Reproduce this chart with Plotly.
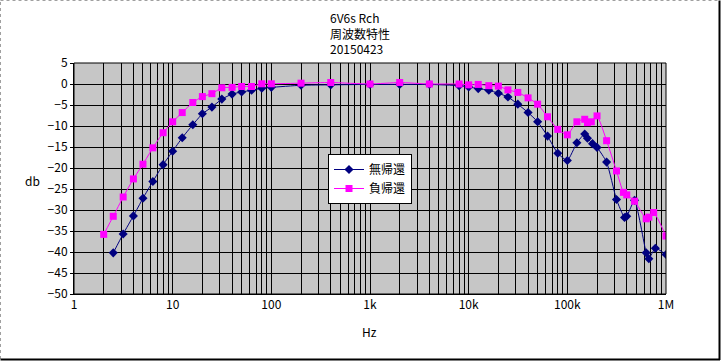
import plotly.graph_objects as go

freq_nfb0 = [2.5, 3.15, 4, 5, 6.3, 8, 10, 12.5, 16, 20, 25, 31.5, 40, 50, 63, 80, 100,
             200, 400, 1000, 2000, 4000, 8000, 10000, 12500, 16000, 20000, 25000, 31500,
             40000, 50000, 63000, 80000, 100000, 125000, 150000, 160000, 180000, 200000,
             250000, 315000, 380000, 400000, 480000, 630000, 670000, 780000, 1000000]
db_nfb0 = [-40.2, -35.7, -31.4, -27.2, -23.2, -19.2, -16.0, -12.8, -9.7, -7.1, -5.5, -3.6,
           -2.4, -1.9, -1.5, -1.0, -0.8, -0.3, -0.2, -0.1, -0.1, -0.1, -0.4, -0.7, -1.1,
           -1.5, -2.2, -3.1, -4.8, -6.8, -9.0, -12.4, -16.5, -18.2, -14.0, -11.9, -12.9,
           -14.2, -15.1, -18.6, -27.5, -31.8, -31.5, -27.7, -40.2, -41.6, -39.1, -40.6]

freq_nfb = [2, 2.5, 3.15, 4, 5, 6.3, 8, 10, 12.5, 16, 20, 25, 31.5, 40, 50, 63, 80, 100,
            200, 400, 1000, 2000, 4000, 8000, 10000, 12500, 16000, 20000, 25000, 31500,
            40000, 50000, 63000, 80000, 100000, 125000, 150000, 160000, 175000, 200000,
            250000, 315000, 370000, 400000, 480000, 630000, 670000, 750000, 1000000]
db_nfb = [-35.8, -31.5, -26.9, -22.6, -19.1, -15.2, -11.6, -9.0, -6.8, -4.4, -3.0, -2.3,
          -0.9, -0.8, -0.6, -0.6, 0.05, 0.05, 0.2, 0.35, 0.0, 0.35, 0.0, 0.0, -0.2, -0.1,
          -0.4, -0.5, -1.4, -2.0, -3.3, -4.8, -7.8, -10.8, -12.1, -9.0, -8.4, -9.2, -9.0,
          -7.6, -13.5, -20.7, -25.8, -26.4, -27.9, -32.1, -31.7, -30.6, -36.2]

series_names = ["無帰還", "負帰還"]
title_lines = ["6V6s Rch", "周波数特性", "20150423"]
x_tick_labels = {1: "1", 10: "10", 100: "100", 1000: "1k", 10000: "10k",
                 100000: "100k", 1000000: "1M"}
y_ticks = list(range(-50, 10, 5))

FONT = "Noto Sans CJK JP"

tickvals = []
ticktext = []
for d in range(6):
    for m in range(1, 10):
        v = m * 10 ** d
        tickvals.append(v)
        ticktext.append(x_tick_labels.get(v, ""))
tickvals.append(1000000)
ticktext.append("1M")

W, H = 722, 361
L, R, T, B = 74, 56, 63, 67
PW, PH = W - L - R, H - T - B


def px(xp):
    return (xp - L) / PW


def py(yp):
    return (H - B - yp) / PH


fig = go.Figure()
fig.add_trace(go.Scatter(
    x=freq_nfb0, y=db_nfb0, name=series_names[0], mode="lines+markers",
    line=dict(color="#000080", width=1, shape="spline", smoothing=0.5),
    marker=dict(symbol="diamond", size=7, color="#000080"),
))
fig.add_trace(go.Scatter(
    x=freq_nfb, y=db_nfb, name=series_names[1], mode="lines+markers",
    line=dict(color="#ff00ff", width=1, shape="spline", smoothing=0.5),
    marker=dict(symbol="square", size=7, color="#ff00ff"),
))

fig.update_layout(
    width=W, height=H,
    margin=dict(l=L, r=R, t=T, b=B),
    paper_bgcolor="white",
    plot_bgcolor="#c6c6c6",
    font=dict(family=FONT, size=11, color="black"),
    showlegend=True,
    legend=dict(x=px(328), y=py(154), xanchor="left", yanchor="top",
                bgcolor="white", bordercolor="black", borderwidth=1,
                font=dict(family=FONT, size=12), tracegroupgap=0,
                itemwidth=30),
    xaxis=dict(type="log", range=[0, 6], tickvals=tickvals, ticktext=ticktext,
               showgrid=True, gridcolor="black", gridwidth=1,
               showline=True, linecolor="black", linewidth=1, mirror=False,
               ticks="", zeroline=False, tickfont=dict(family=FONT, size=12)),
    yaxis=dict(range=[-50, 5], tickvals=y_ticks, showgrid=True, gridcolor="black",
               gridwidth=1, showline=True, linecolor="black", linewidth=1,
               ticks="outside", ticklen=3, tickcolor="black", zeroline=False,
               tickfont=dict(family=FONT, size=12)),
    annotations=[
        dict(text="<br>".join(title_lines), xref="paper", yref="paper",
             x=px(328), y=py(7), xanchor="left", yanchor="top",
             align="left", showarrow=False, font=dict(family=FONT, size=12)),
        dict(text="db", xref="paper", yref="paper", x=px(32), y=py(180),
             xanchor="center", yanchor="middle", showarrow=False,
             font=dict(family=FONT, size=12)),
        dict(text="Hz", xref="paper", yref="paper", x=px(369), y=py(331),
             xanchor="center", yanchor="middle", showarrow=False,
             font=dict(family=FONT, size=12)),
    ],
    shapes=[
        dict(type="rect", xref="paper", yref="paper", x0=0, x1=1, y0=0, y1=1,
             line=dict(color="black", width=1), layer="above"),
        dict(type="line", xref="paper", yref="paper", x0=px(0.5), x1=px(0.5),
             y0=py(359), y1=py(0.5), line=dict(color="#a0a0a0", width=1, dash="dot")),
        dict(type="line", xref="paper", yref="paper", x0=px(0.5), x1=px(719),
             y0=py(0.5), y1=py(0.5), line=dict(color="#a0a0a0", width=1, dash="dot")),
        dict(type="line", xref="paper", yref="paper", x0=px(0.5), x1=px(720),
             y0=py(359.5), y1=py(359.5), line=dict(color="black", width=2)),
        dict(type="line", xref="paper", yref="paper", x0=px(719.5), x1=px(719.5),
             y0=py(360), y1=py(0.5), line=dict(color="black", width=2)),
    ],
)

fig.write_html("out.html", config={"displayModeBar": False},
               post_script="document.body.style.margin='0';document.body.style.overflow='hidden';")
